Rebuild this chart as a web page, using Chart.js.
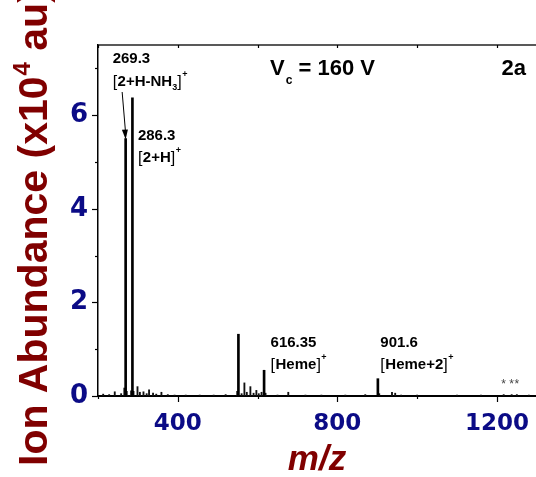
<!DOCTYPE html>
<html>
<head>
<meta charset="utf-8">
<script src="https://cdn.jsdelivr.net/npm/chart.js@4/dist/chart.umd.min.js"></script>
<style>
  html, body { margin: 0; padding: 0; background: #fff; }
  #wrap { width: 536px; height: 477px; }
</style>
</head>
<body>
<div id="wrap"><canvas id="ms"></canvas></div>
<script>
// Mass spectrum, cone voltage 160 V (abundance in units of 10^4)
const strongMz        = [269.3, 286.3, 552, 616.35, 901.6];
const strongAbundance = [5.5, 6.37, 1.32, 0.55, 0.37];

const weakMz        = [213, 228, 242, 258, 266, 272, 283, 289, 299, 305, 314, 322, 328, 338, 346, 359, 375, 392,
                       420, 455, 490, 520, 549, 560, 567, 573, 582, 590, 597, 603, 610, 620, 650, 677, 720, 760,
                       820, 870, 905, 937, 945, 960, 1000, 1100, 1160, 1217, 1237, 1250, 1280];
const weakAbundance = [0.04, 0.03, 0.09, 0.05, 0.17, 0.1, 0.11, 0.1, 0.2, 0.08, 0.09, 0.05, 0.13, 0.06, 0.04, 0.08, 0.03, 0.02,
                       0.02, 0.02, 0.02, 0.03, 0.1, 0.05, 0.28, 0.08, 0.2, 0.06, 0.12, 0.05, 0.08, 0.06, 0.02, 0.08, 0.02, 0.02,
                       0.02, 0.03, 0.05, 0.08, 0.06, 0.02, 0.02, 0.02, 0.02, 0.03, 0.03, 0.03, 0.02];

// Axis ticks
const xMajorTicks = [400, 800, 1200];
const xMinorTicks = [200, 600, 1000];
const yMajorTicks = [0, 2, 4, 6];
const yMinorTicks = [1, 3, 5, 7];

// Peak annotations: m/z value, ion label
const peakLabels = [
  { mz: 269.3,  text: '269.3',  ion: ['[', '2+H-NH', '3', ']', '+'] },
  { mz: 286.3,  text: '286.3',  ion: ['[', '2+H', '', ']', '+'] },
  { mz: 616.35, text: '616.35', ion: ['[', 'Heme', '', ']', '+'] },
  { mz: 901.6,  text: '901.6',  ion: ['[', 'Heme+2', '', ']', '+'] }
];
// Unidentified minor ions marked with stars
const starredMz = [1217, 1237, 1250];

const NAVY = '#0b0b86';
const DARK_RED = '#800000';
const SANS = '"Liberation Sans", Arial, sans-serif';

function toPoints(xs, ys) { return xs.map((x, i) => ({ x: x, y: ys[i] })); }

const decorations = {
  id: 'decorations',
  afterDatasetsDraw(chart) {
    const ctx = chart.ctx;
    const xs = chart.scales.x, ys = chart.scales.y;
    const a = chart.chartArea;
    ctx.save();

    // top frame
    ctx.strokeStyle = '#222';
    ctx.lineWidth = 1.5;
    ctx.beginPath();
    ctx.moveTo(a.left, a.top);
    ctx.lineTo(a.right + 1, a.top);
    ctx.stroke();

    // tick marks
    ctx.strokeStyle = '#000';
    ctx.lineWidth = 1.2;
    const tick = (x1, y1, x2, y2) => { ctx.beginPath(); ctx.moveTo(x1, y1); ctx.lineTo(x2, y2); ctx.stroke(); };
    xMajorTicks.forEach(v => { const p = Math.round(xs.getPixelForValue(v)) + 0.5; tick(p, a.bottom, p, a.bottom + 6); tick(p, a.top, p, a.top + 3); });
    xMinorTicks.forEach(v => { const p = Math.round(xs.getPixelForValue(v)) + 0.5; tick(p, a.bottom, p, a.bottom + 3); tick(p, a.top, p, a.top + 3); });
    yMajorTicks.forEach(v => { const p = Math.round(ys.getPixelForValue(v)) + 0.5; tick(a.left - 6, p, a.left, p); });
    yMinorTicks.forEach(v => { const p = Math.round(ys.getPixelForValue(v)) + 0.5; tick(a.left - 3, p, a.left, p); });

    // peak annotations
    ctx.fillStyle = '#000';
    ctx.textBaseline = 'alphabetic';
    ctx.textAlign = 'left';
    const annot = (lab, x, yVal, yIon) => {
      ctx.font = 'bold 15px ' + SANS;
      ctx.fillText(lab.text, x, yVal);
      let cx = x;
      const [open, body, sub, close, sup] = lab.ion;
      ctx.font = '16px ' + SANS;
      ctx.fillText(open, cx, yIon + 1); cx += ctx.measureText(open).width + 0.5;
      ctx.font = 'bold 15px ' + SANS;
      ctx.fillText(body, cx, yIon); cx += ctx.measureText(body).width;
      if (sub) { ctx.font = 'bold 9px ' + SANS; ctx.fillText(sub, cx, yIon + 4); cx += ctx.measureText(sub).width; }
      ctx.font = '16px ' + SANS;
      ctx.fillText(close, cx, yIon + 1); cx += ctx.measureText(close).width + 0.5;
      ctx.font = 'bold 9px ' + SANS;
      ctx.fillText(sup, cx, yIon - 9);
    };
    const px = m => xs.getPixelForValue(m);
    annot(peakLabels[0], px(269.3) - 13, 63, 86);
    annot(peakLabels[1], px(286.3) + 5.5, 140, 162);
    annot(peakLabels[2], px(616.35) + 6.5, 347, 369);
    annot(peakLabels[3], px(901.6) + 2.5, 347, 369);

    // arrow pointing to the 269.3 peak
    const tipX = px(269.3), tipY = ys.getPixelForValue(5.5) + 1;
    const startX = px(269.3) - 3.5, startY = 92;
    ctx.strokeStyle = '#000';
    ctx.lineWidth = 1;
    ctx.beginPath(); ctx.moveTo(startX, startY); ctx.lineTo(tipX, tipY - 6); ctx.stroke();
    const ang = Math.atan2(tipY - startY, tipX - startX);
    ctx.beginPath();
    ctx.moveTo(tipX, tipY);
    ctx.lineTo(tipX - 10 * Math.cos(ang) + 3 * Math.sin(ang), tipY - 10 * Math.sin(ang) - 3 * Math.cos(ang));
    ctx.lineTo(tipX - 10 * Math.cos(ang) - 3 * Math.sin(ang), tipY - 10 * Math.sin(ang) + 3 * Math.cos(ang));
    ctx.closePath(); ctx.fill();

    // stars over minor ions
    ctx.fillStyle = '#444';
    ctx.font = '12px ' + SANS;
    ctx.textAlign = 'center';
    starredMz.forEach(m => ctx.fillText('*', px(m), ys.getPixelForValue(0) - 8));

    // condition and panel labels
    ctx.fillStyle = '#000';
    ctx.textAlign = 'left';
    ctx.font = 'bold 22px ' + SANS;
    ctx.fillText('V', 270, 75);
    let vx = 270 + ctx.measureText('V').width + 1;
    ctx.font = 'bold 12px ' + SANS;
    ctx.fillText('c', vx, 84);
    vx += ctx.measureText('c').width;
    ctx.font = 'bold 22px ' + SANS;
    ctx.fillText(' = 160 V', vx, 75);
    ctx.textAlign = 'right';
    ctx.fillText('2a', 526, 75);

    // axis titles
    ctx.fillStyle = DARK_RED;
    ctx.textAlign = 'center';
    ctx.font = 'italic bold 35px ' + SANS;
    ctx.fillText('m/z', (a.left + a.right) / 2, 470);

    ctx.translate(47, 466);
    ctx.rotate(-Math.PI / 2);
    ctx.textAlign = 'left';
    ctx.font = 'bold 41px ' + SANS;
    const t1 = 'Ion Abundance (x10';
    ctx.fillText(t1, 0, 0);
    let tx = ctx.measureText(t1).width;
    ctx.font = 'bold 24px ' + SANS;
    ctx.fillText('4', tx + 1, -17);
    tx += ctx.measureText('4').width + 1;
    ctx.font = 'bold 41px ' + SANS;
    ctx.fillText(' au)', tx, 0);

    ctx.restore();
  }
};

new Chart(document.getElementById('ms'), {
  type: 'bar',
  data: {
    datasets: [
      { data: toPoints(strongMz, strongAbundance), backgroundColor: '#000', barThickness: 2, grouped: false },
      { data: toPoints(weakMz, weakAbundance), backgroundColor: '#111', barThickness: 1.2, grouped: false }
    ]
  },
  options: {
    responsive: true,
    maintainAspectRatio: false,
    animation: false,
    layout: { padding: { top: 45, right: 0, bottom: 0, left: 0 } },
    plugins: { legend: { display: false }, tooltip: { enabled: false } },
    scales: {
      x: {
        type: 'linear',
        min: 200,
        max: 1298,
        offset: false,
        afterFit: s => { s.height = 81; s.paddingLeft = 0; s.paddingRight = 0; },
        afterBuildTicks: s => { s.ticks = xMajorTicks.map(v => ({ value: v })); },
        grid: { display: false, drawTicks: false, tickLength: 0 },
        border: { display: true, color: '#000', width: 2 },
        ticks: { color: NAVY, padding: 14, maxRotation: 0, callback: v => String(v),
                 font: { family: '"DejaVu Sans"', weight: 'bold', size: 23 } }
      },
      y: {
        min: 0,
        max: 7.5,
        afterFit: s => { s.width = 98; s.paddingTop = 0; s.paddingBottom = 0; },
        afterBuildTicks: s => { s.ticks = yMajorTicks.map(v => ({ value: v })); },
        grid: { display: false, drawTicks: false, tickLength: 0 },
        border: { display: true, color: '#000', width: 1.5 },
        ticks: { color: NAVY, padding: 10, font: { family: '"DejaVu Sans"', weight: 'bold', size: 26 } }
      }
    }
  },
  plugins: [decorations]
});
</script>
</body>
</html>
